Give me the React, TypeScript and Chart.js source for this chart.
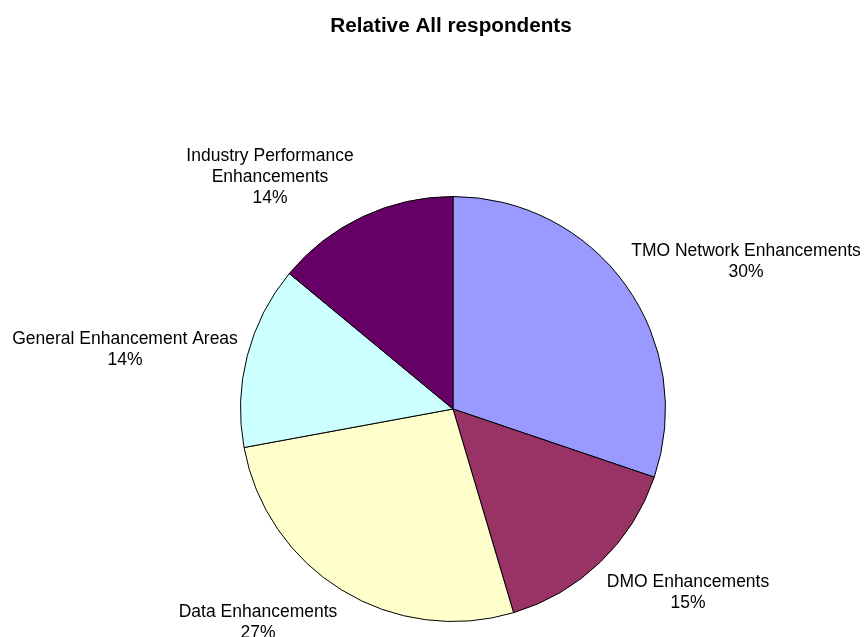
import React, { useEffect, useRef } from "react";
import { Chart, registerables } from "chart.js";

Chart.register(...registerables);

const categories = [
  "TMO Network Enhancements",
  "DMO Enhancements",
  "Data Enhancements",
  "General Enhancement Areas",
  "Industry Performance Enhancements",
];
const values = [30.2, 15.2, 26.7, 13.9, 14.0];
const percentLabels = ["30%", "15%", "27%", "14%", "14%"];
const labelLines = [
  ["TMO Network Enhancements", "30%"],
  ["DMO Enhancements", "15%"],
  ["Data Enhancements", "27%"],
  ["General Enhancement Areas", "14%"],
  ["Industry Performance", "Enhancements", "14%"],
];
const colors = ["#9999FF", "#993366", "#FFFFCC", "#CCFFFF", "#660066"];
const titleText = "Relative All respondents";

// label anchor positions (center of first line), layout only
const labelPos = [
  [746, 251],
  [688, 582],
  [258, 612],
  [125, 339],
  [270, 156],
];

const labelPlugin = {
  id: "outerLabels",
  afterDraw(chart: any) {
    const ctx = chart.ctx;
    ctx.save();
    ctx.fillStyle = "#000";
    ctx.textAlign = "center";
    ctx.textBaseline = "middle";
    ctx.font = "bold 20.7px 'Liberation Sans', Arial, sans-serif";
    ctx.fillText(titleText, 451, 26);
    ctx.font = "17.5px 'Liberation Sans', Arial, sans-serif";
    labelLines.forEach((lines, i) => {
      const [x, y] = labelPos[i];
      lines.forEach((t, j) => {
        ctx.fillText(t, x, y + j * 21);
      });
    });
    ctx.restore();
  },
};

export default function App() {
  const ref = useRef<HTMLCanvasElement>(null);
  useEffect(() => {
    document.body.style.margin = "0";
    const chart = new Chart(ref.current!, {
      type: "pie",
      data: {
        labels: categories,
        datasets: [
          {
            data: values,
            backgroundColor: colors,
            borderColor: "#000",
            borderWidth: 1,
          },
        ],
      },
      options: {
        animation: false,
        responsive: false,
        maintainAspectRatio: false,
        events: [],
        layout: { padding: { left: 240, right: 198, top: 196, bottom: 15 } },
        plugins: {
          legend: { display: false },
          title: { display: false },
          tooltip: { enabled: false },
        },
      },
      plugins: [labelPlugin],
    });
    return () => chart.destroy();
  }, []);
  return (
    <div style={{ position: "absolute", left: 0, top: 0, width: 864, height: 637, background: "#fff" }}>
      <canvas ref={ref} width={864} height={637} style={{ width: 864, height: 637 }} />
    </div>
  );
}
